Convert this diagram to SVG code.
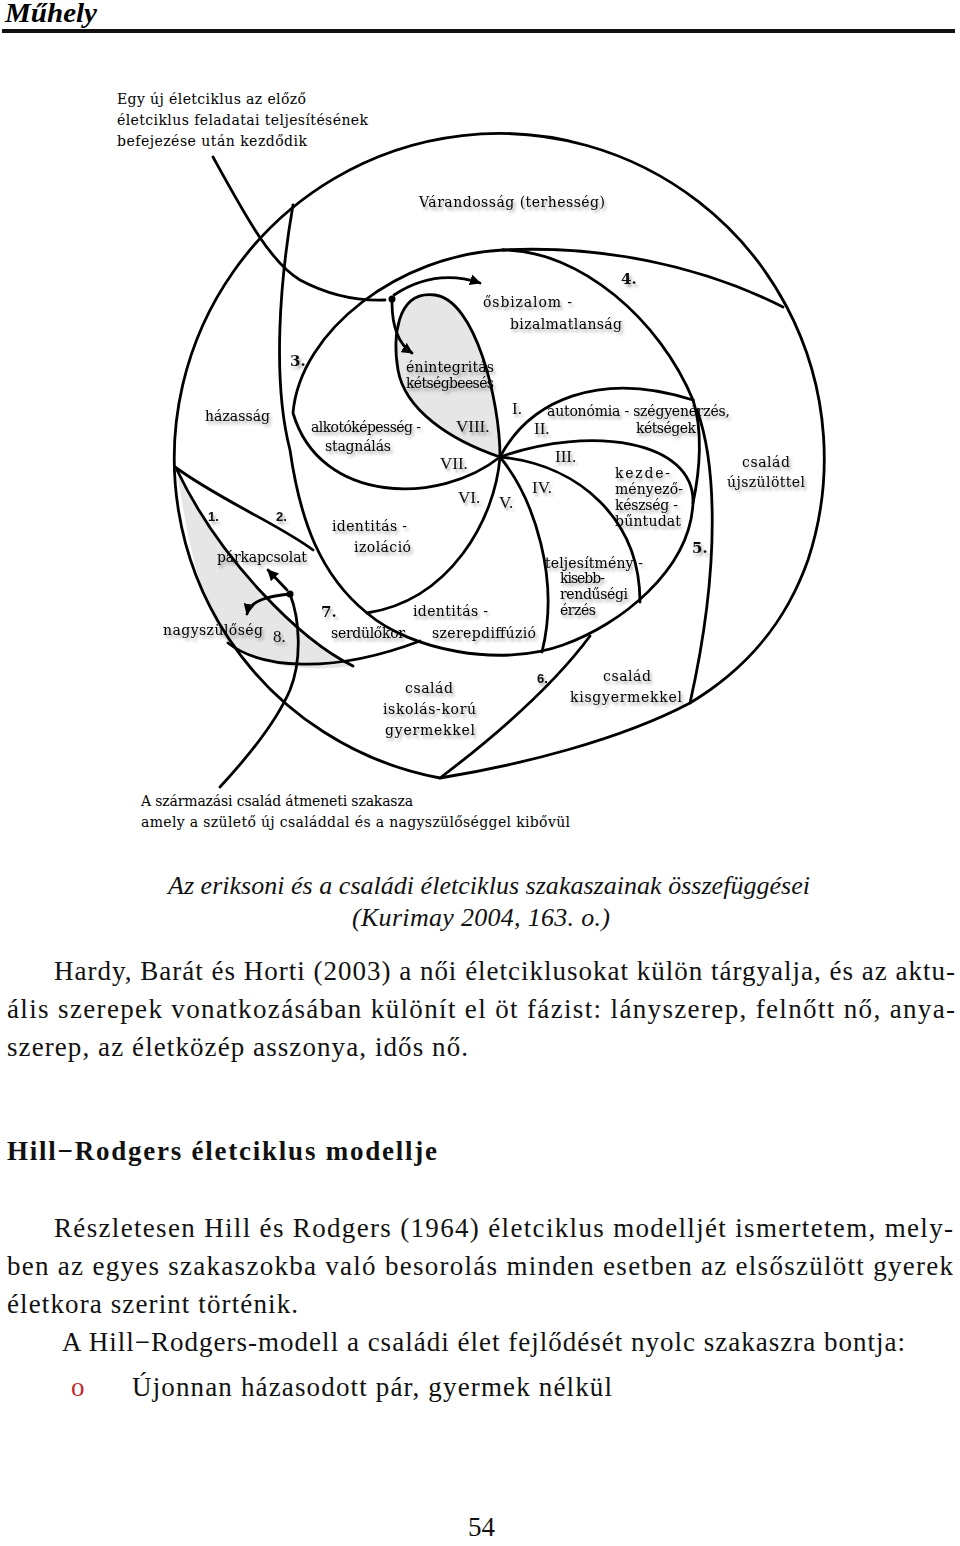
<svg xmlns="http://www.w3.org/2000/svg" width="960" height="1546" viewBox="0 0 960 1546">
<defs>
<style>
.ln{fill:none;stroke:#000;stroke-width:2.8;stroke-linecap:round;stroke-linejoin:round}
.lb{font-family:"DejaVu Serif",serif;font-size:14px;fill:#000}
.sh{filter:url(#sh)}
.rn{font-family:"Liberation Serif",serif;font-size:17px;fill:#111}
.nb{font-family:"DejaVu Serif",serif;font-size:15px;font-weight:bold;fill:#111}
.ns{font-family:"Liberation Sans",sans-serif;font-size:13px;font-weight:bold;fill:#111}
.bd{font-family:"Liberation Serif",serif;font-size:27px;fill:#111}
.cap{font-family:"Liberation Serif",serif;font-size:26px;font-style:italic;fill:#111}
</style>
<filter id="sh" x="-10%" y="-40%" width="130%" height="200%">
<feDropShadow dx="2" dy="3" stdDeviation="1.4" flood-color="#000" flood-opacity="0.35"/>
</filter>
<marker id="ah" viewBox="0 0 10 10" refX="9" refY="5" markerWidth="4" markerHeight="4" orient="auto" markerUnits="strokeWidth">
<path d="M0,0 L10,5 L0,10 z" fill="#000"/>
</marker>
</defs>
<rect width="960" height="1546" fill="#fff"/>

<g id="header">
<text x="5" y="22" font-family="Liberation Serif,serif" font-size="28" font-weight="bold" font-style="italic" textLength="92" lengthAdjust="spacingAndGlyphs">Műhely</text>
<rect x="2" y="29" width="953" height="4" fill="#111"/>
</g>

<g id="shading">
<path d="M500,457 C500,400 475,300 435,295 C395,290 393,340 398,370 C405,410 450,440 500,457 Z" fill="#e6e6e6"/>
<path d="M177,470 C190,560 205,610 228,643 C260,668 310,672 353,666 C300,640 220,560 177,470 Z" fill="#e6e6e6"/>
</g>

<g id="connectors">
<path class="ln" d="M440,778 A325,325 0 1 1 808,560 C785,625 745,670 690,703 C620,740 520,765 440,778"/>
<path class="ln" d="M293,205 C280,280 272,380 290,450 C300,520 320,575 367,613 C410,650 500,668 563,645 C620,625 690,570 693,503 C695,440 590,425 500,457"/>
<path class="ln" d="M500,457 C440,505 320,505 293,413 C300,330 400,255 503,250"/>
<path class="ln" d="M503,250 C580,250 660,320 693,400"/>
<path class="ln" d="M503,250 C600,245 700,265 783,307"/>
<path class="ln" d="M693,400 C703,430 700,470 693,503"/>
<path class="ln" d="M697,410 C715,460 722,560 690,703"/>
<path class="ln" d="M500,457 C530,400 600,370 693,400"/>
<path class="ln" d="M500,457 C500,400 475,300 435,295 C395,290 393,340 398,370 C405,410 450,440 500,457"/>
<path class="ln" d="M500,457 C580,465 640,520 640,602"/>
<path class="ln" d="M500,457 C535,500 560,580 542,652"/>
<path class="ln" d="M500,457 C495,520 450,600 367,613"/>
<path class="ln" d="M175,467 C220,500 280,525 313,550"/>
<path class="ln" d="M177,470 C220,560 300,640 353,666"/>
<path class="ln" d="M228,643 C260,668 330,675 420,641"/>
<path class="ln" d="M440,778 C490,740 550,690 590,636"/>
<path class="ln" d="M213,157 C245,215 270,262 300,280 C330,296 360,301 385,300"/>
<circle cx="392" cy="299" r="3.5" fill="#000"/>
<path class="ln" d="M394,295 Q435,268 480,283" marker-end="url(#ah)"/>
<path class="ln" d="M392,302 C392,330 400,345 412,353" marker-end="url(#ah)"/>
<circle cx="290" cy="594" r="3.5" fill="#000"/>
<path class="ln" d="M287,590 L268,570" marker-end="url(#ah)"/>
<path class="ln" d="M290,594 C270,596 250,600 247,614" marker-end="url(#ah)"/>
<path class="ln" d="M290,594 C300,620 302,660 290,690 C275,725 245,760 220,787"/>
</g>

<g id="note-top">
<text class="lb" x="117" y="104" textLength="189">Egy új életciklus az előző</text>
<text class="lb" x="117" y="125" textLength="251">életciklus feladatai teljesítésének</text>
<text class="lb" x="117" y="146" textLength="190">befejezése után kezdődik</text>
</g>

<g id="labels" class="sh">
<text class="lb" x="419" y="207" font-size="15" textLength="186">Várandosság (terhesség)</text>
<text class="nb" x="621" y="284">4.</text>
<text class="lb" x="483" y="307" font-size="15" textLength="89">ősbizalom -</text>
<text class="lb" x="510" y="329" font-size="15" textLength="112">bizalmatlanság</text>
<text class="nb" x="290" y="366">3.</text>
<text class="lb" x="406" y="372" textLength="88">énintegritás</text>
<text class="lb" x="406" y="388" textLength="88">kétségbeesés</text>
<text class="lb" x="205" y="421" font-size="15" textLength="65">házasság</text>
<text class="lb" x="311" y="432" textLength="110">alkotóképesség -</text>
<text class="lb" x="325" y="451" textLength="66">stagnálás</text>
<text class="lb" x="547" y="416" textLength="183">autonómia - szégyenérzés,</text>
<text class="lb" x="636" y="433" textLength="60">kétségek</text>
<text class="rn" x="512" y="414">I.</text>
<text class="rn" x="534" y="434">II.</text>
<text class="rn" x="456" y="432">VIII.</text>
<text class="rn" x="440" y="469">VII.</text>
<text class="rn" x="555" y="462">III.</text>
<text class="rn" x="532" y="493">IV.</text>
<text class="rn" x="458" y="503">VI.</text>
<text class="rn" x="499" y="508">V.</text>
<text class="lb" x="742" y="467" font-size="15" textLength="48">család</text>
<text class="lb" x="727" y="487" font-size="15" textLength="78">újszülöttel</text>
<text class="lb" x="615" y="478" textLength="55">kezde-</text>
<text class="lb" x="615" y="494" textLength="68">ményező-</text>
<text class="lb" x="615" y="510" textLength="63">készség -</text>
<text class="lb" x="615" y="526" textLength="66">bűntudat</text>
<text class="ns" x="208" y="521">1.</text>
<text class="ns" x="276" y="521">2.</text>
<text class="lb" x="332" y="531" font-size="15" textLength="75">identitás -</text>
<text class="lb" x="354" y="552" font-size="15" textLength="57">izoláció</text>
<text class="lb" x="217" y="562" textLength="90">párkapcsolat</text>
<text class="nb" x="692" y="553">5.</text>
<text class="lb" x="545" y="568" textLength="98">teljesítmény -</text>
<text class="lb" x="560" y="583" textLength="45">kisebb-</text>
<text class="lb" x="560" y="599" textLength="68">rendűségi</text>
<text class="lb" x="560" y="615" textLength="36">érzés</text>
<text class="nb" x="321" y="617">7.</text>
<text class="lb" x="413" y="616" font-size="15" textLength="75">identitás -</text>
<text class="lb" x="432" y="638" font-size="15" textLength="104">szerepdiffúzió</text>
<text class="lb" x="163" y="635" textLength="100">nagyszülőség</text>
<text class="rn" x="273" y="642" font-size="18">8.</text>
<text class="lb" x="331" y="638" textLength="74">serdülőkor</text>
<text class="ns" x="537" y="683">6.</text>
<text class="lb" x="603" y="681" font-size="15" textLength="48">család</text>
<text class="lb" x="570" y="702" font-size="15" textLength="112">kisgyermekkel</text>
<text class="lb" x="405" y="693" font-size="15" textLength="48">család</text>
<text class="lb" x="383" y="714" font-size="15" textLength="93">iskolás-korú</text>
<text class="lb" x="385" y="735" font-size="15" textLength="90">gyermekkel</text>
</g>

<g id="note-bottom">
<text class="lb" x="141" y="806" textLength="272">A származási család átmeneti szakasza</text>
<text class="lb" x="141" y="827" textLength="429">amely a születő új családdal és a nagyszülőséggel kibővül</text>
</g>

<g id="caption">
<text class="cap" x="168" y="894" textLength="642">Az eriksoni és a családi életciklus szakaszainak összefüggései</text>
<text class="cap" x="352" y="926" textLength="258">(Kurimay 2004, 163. o.)</text>
</g>

<g id="body">
<text class="bd" x="54" y="980" textLength="901" lengthAdjust="spacing">Hardy, Barát és Horti (2003) a női életciklusokat külön tárgyalja, és az aktu-</text>
<text class="bd" x="7" y="1018" textLength="948" lengthAdjust="spacing">ális szerepek vonatkozásában különít el öt fázist: lányszerep, felnőtt nő, anya-</text>
<text class="bd" x="7" y="1056" textLength="461">szerep, az életközép asszonya, idős nő.</text>
<text class="bd" x="7" y="1160" font-weight="bold" textLength="430">Hill−Rodgers életciklus modellje</text>
<text class="bd" x="54" y="1237" textLength="899" lengthAdjust="spacing">Részletesen Hill és Rodgers (1964) életciklus modelljét ismertetem, mely-</text>
<text class="bd" x="7" y="1275" textLength="946" lengthAdjust="spacing">ben az egyes szakaszokba való besorolás minden esetben az elsőszülött gyerek</text>
<text class="bd" x="7" y="1313" textLength="291">életkora szerint történik.</text>
<text class="bd" x="62" y="1351" textLength="843">A Hill−Rodgers-modell a családi élet fejlődését nyolc szakaszra bontja:</text>
<text class="bd" x="71" y="1396" style="fill:#c0282d">o</text>
<text class="bd" x="132" y="1396" textLength="480">Újonnan házasodott pár, gyermek nélkül</text>
<text class="bd" x="468" y="1536">54</text>
</g>
</svg>
